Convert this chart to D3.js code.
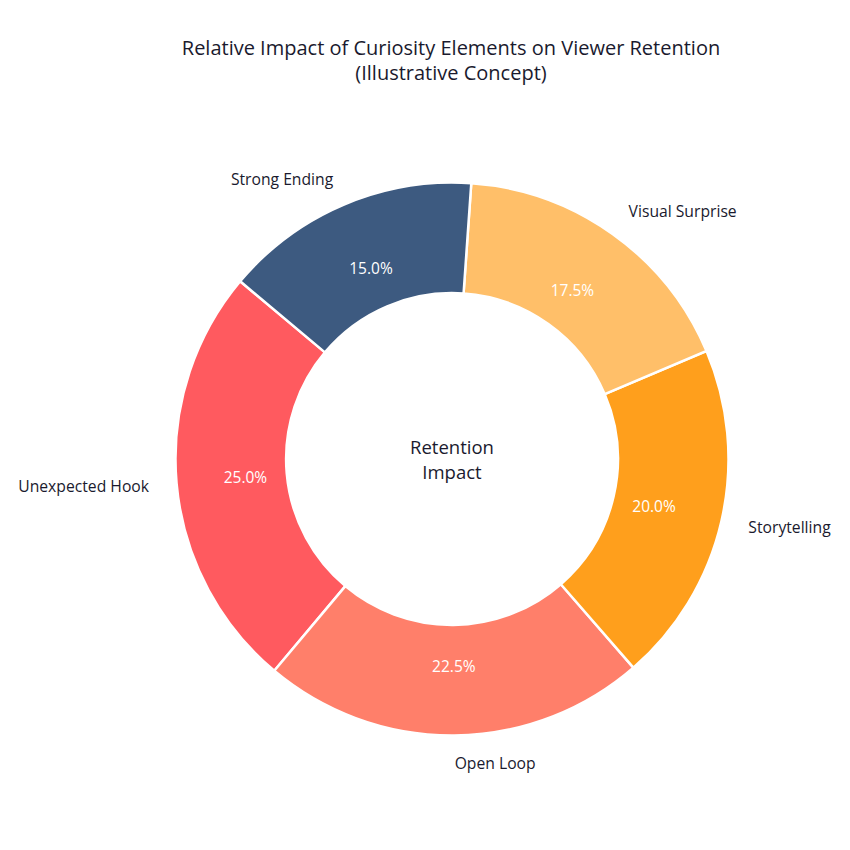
<!DOCTYPE html>
<html>
<head>
<meta charset="utf-8">
<script src="https://cdn.jsdelivr.net/npm/d3@7"></script>
<style>
  html, body { margin: 0; padding: 0; background: #fff; }
  svg { display: block; font-family: "Open Sans", "DejaVu Sans", sans-serif; }
</style>
</head>
<body>
<div id="chart"></div>
<script>
// Slice data, in drawing order (counter-clockwise from the start angle)
const categories = ["Unexpected Hook", "Open Loop", "Storytelling", "Visual Surprise", "Strong Ending"];
const values = [25.0, 22.5, 20.0, 17.5, 15.0];
const colors = ["#FF5A5F", "#FF7F6A", "#FF9F1C", "#FFBF69", "#3D5A80"];
const titleLines = ["Relative Impact of Curiosity Elements on Viewer Retention", "(Illustrative Concept)"];
const centerLines = ["Retention", "Impact"];

const width = 850, height = 850;
const cx = 452, cy = 459;
const outerR = 276.5, innerR = outerR * 0.6;
const startDeg = 140; // measured ccw from 3 o'clock

const svg = d3.select("#chart").append("svg")
    .attr("width", width)
    .attr("height", height);

// title
svg.append("g").selectAll("text")
    .data(titleLines)
    .join("text")
    .attr("x", 451)
    .attr("y", (d, i) => 55 + i * 25)
    .attr("text-anchor", "middle")
    .attr("font-size", "20px")
    .attr("fill", "#1a1a2e")
    .text(d => d);

// d3 angles go clockwise from 12 o'clock, so flip the sweep
const startAngle = (90 - startDeg) * Math.PI / 180;
const pie = d3.pie()
    .sort(null)
    .value(d => d.value)
    .startAngle(startAngle)
    .endAngle(startAngle - 2 * Math.PI);

const data = categories.map((c, i) => ({ name: c, value: values[i], color: colors[i] }));
const arcs = pie(data);
const total = d3.sum(values);

const arc = d3.arc().innerRadius(innerR).outerRadius(outerR);

const g = svg.append("g").attr("transform", `translate(${cx},${cy})`);

g.selectAll("path.slice")
    .data(arcs)
    .join("path")
    .attr("class", "slice")
    .attr("d", arc)
    .attr("fill", d => d.data.color)
    .attr("stroke", "#fff")
    .attr("stroke-width", 2.5);

// point at a given fraction of the outer radius, on the slice's middle
function midPoint(d, frac) {
    const a = (d.startAngle + d.endAngle) / 2;
    return [Math.sin(a) * outerR * frac, -Math.cos(a) * outerR * frac];
}

// percentage labels
g.selectAll("text.pct")
    .data(arcs)
    .join("text")
    .attr("class", "pct")
    .attr("x", d => midPoint(d, 0.75)[0])
    .attr("y", d => midPoint(d, 0.75)[1])
    .attr("text-anchor", "middle")
    .attr("dominant-baseline", "central")
    .attr("font-size", "15.5px")
    .attr("fill", "#fff")
    .text(d => (d.data.value / total * 100).toFixed(1) + "%");

// category labels outside
g.selectAll("text.cat")
    .data(arcs)
    .join("text")
    .attr("class", "cat")
    .attr("x", d => midPoint(d, 1.1)[0])
    .attr("y", d => midPoint(d, 1.1)[1])
    .attr("text-anchor", d => midPoint(d, 1.1)[0] > 0 ? "start" : "end")
    .attr("dominant-baseline", "central")
    .attr("font-size", "15.7px")
    .attr("fill", "#1a1a2e")
    .text(d => d.data.name);

// center text
g.selectAll("text.center")
    .data(centerLines)
    .join("text")
    .attr("class", "center")
    .attr("x", 0)
    .attr("y", (d, i) => -13 + i * 25)
    .attr("text-anchor", "middle")
    .attr("dominant-baseline", "central")
    .attr("font-size", "18.5px")
    .attr("fill", "#1a1a2e")
    .text(d => d);
</script>
</body>
</html>
